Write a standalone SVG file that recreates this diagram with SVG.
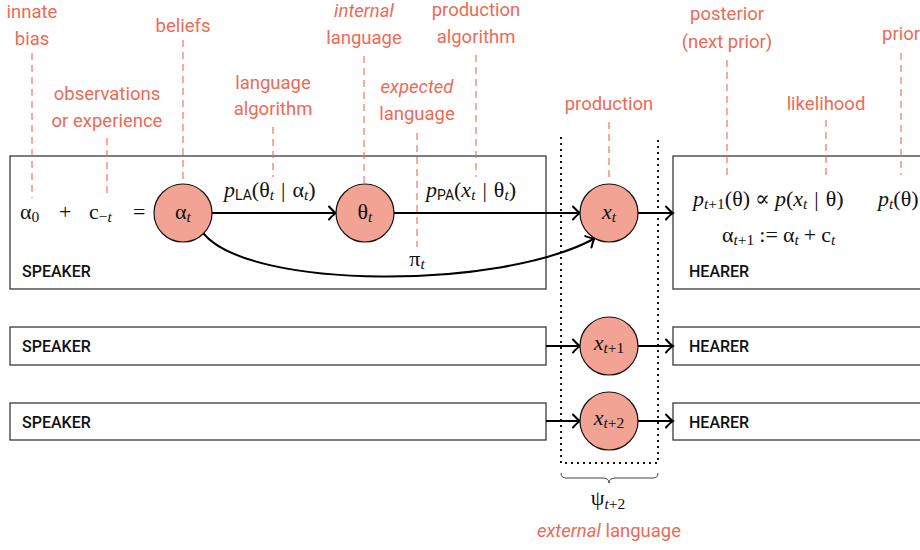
<svg xmlns="http://www.w3.org/2000/svg" width="920" height="550" viewBox="0 0 920 550">
<defs>
<marker id="arr" markerUnits="userSpaceOnUse" markerWidth="20" markerHeight="20" viewBox="-10 -10 20 20" refX="0" refY="0" orient="auto" overflow="visible">
<path d="M -7 -6.5 Q -2.5 -1.5 0 0 Q -2.5 1.5 -7 6.5" fill="none" stroke="#000" stroke-width="2" stroke-linecap="round"/>
</marker>
<style>
.box{fill:#fff;stroke:#3a3a3a;stroke-width:1.3}
.node{fill:#F2A393;stroke:#111;stroke-width:1.2}
.lbl{font-family:Roboto,"Liberation Sans",sans-serif;font-size:18.5px;fill:#EE6A55;text-anchor:middle}
.it{font-style:italic}
.dash{stroke:#EE6A55;stroke-width:1.1;stroke-dasharray:7 5;fill:none}
.role{font-family:Roboto,"Liberation Sans",sans-serif;font-size:16px;fill:#111;font-weight:500}
.m{font-family:"Liberation Serif","DejaVu Serif",serif;font-size:22px;fill:#111}
.mi{font-style:italic}
.sub{font-size:15.5px}
.ss{font-family:Roboto,"Liberation Sans",sans-serif;font-size:14px}
.conn{stroke:#000;stroke-width:2;fill:none}
.dot{stroke:#111;stroke-width:2;stroke-dasharray:2 4;fill:none}
</style>
</defs>

<!-- boxes -->
<g id="speaker1"><rect class="box" x="10" y="156" width="536" height="133"/><text class="role" x="22" y="277">SPEAKER</text>
<text class="m" x="20" y="219">α<tspan class="sub" dy="3">0</tspan></text>
<text class="m" x="59" y="219">+</text>
<text class="m" x="89" y="219">c<tspan class="sub" dy="3">−<tspan class="mi">t</tspan></tspan></text>
<text class="m" x="133" y="219">=</text>
</g>
<g id="hearer1"><rect class="box" x="673" y="156" width="300" height="133"/><text class="role" x="689" y="277">HEARER</text>
<text class="m" x="693" y="206"><tspan class="mi">p</tspan><tspan class="sub mi" dy="3">t</tspan><tspan class="sub">+1</tspan><tspan dy="-3">(θ)</tspan><tspan dx="5">∝</tspan><tspan class="mi" dx="5">p</tspan>(<tspan class="mi">x</tspan><tspan class="sub mi" dy="3">t</tspan><tspan dy="-3" dx="7">|</tspan><tspan dx="7">θ)</tspan></text>
<text class="m" x="878" y="206"><tspan class="mi">p</tspan><tspan class="sub mi" dy="3">t</tspan><tspan dy="-3">(θ)</tspan></text>
<text class="m" x="722" y="242">α<tspan class="sub" dy="3"><tspan class="mi">t</tspan>+1</tspan><tspan dy="-3" dx="5">:=</tspan><tspan dx="5">α</tspan><tspan class="sub mi" dy="3">t</tspan><tspan dy="-3" dx="5">+</tspan><tspan dx="5">c</tspan><tspan class="sub mi" dy="3">t</tspan></text>
</g>
<g id="speaker2"><rect class="box" x="10" y="327" width="536" height="38"/><text class="role" x="22" y="352">SPEAKER</text></g>
<g id="hearer2"><rect class="box" x="673" y="327" width="300" height="38"/><text class="role" x="689" y="352">HEARER</text></g>
<g id="speaker3"><rect class="box" x="10" y="403" width="536" height="37"/><text class="role" x="22" y="428">SPEAKER</text></g>
<g id="hearer3"><rect class="box" x="673" y="403" width="300" height="37"/><text class="role" x="689" y="428">HEARER</text></g>

<!-- external language region -->
<g id="external">
<path class="dot" d="M 561 137 V 463 H 658 V 140"/>
<path d="M 561 473 Q 561 478 566 478 L 602 478 Q 609 478 609 483 Q 609 478 616 478 L 653 478 Q 658 478 658 473" fill="none" stroke="#444" stroke-width="1"/>
<text class="m" x="608" y="505" text-anchor="middle">ψ<tspan class="sub" dy="4"><tspan class="mi">t</tspan>+2</tspan></text>
<text class="lbl" x="609" y="537"><tspan class="it">external</tspan> language</text>
</g>

<!-- annotation labels -->
<g id="annotations">
<text class="lbl" x="32" y="18">innate</text><text class="lbl" x="32" y="45">bias</text>
<line class="dash" x1="32" y1="53" x2="32" y2="198"/>
<text class="lbl" x="107" y="100">observations</text><text class="lbl" x="107" y="127">or experience</text>
<line class="dash" x1="107" y1="138" x2="107" y2="196"/>
<text class="lbl" x="183" y="32">beliefs</text>
<line class="dash" x1="183" y1="40" x2="183" y2="184"/>
<text class="lbl" x="273" y="89">language</text><text class="lbl" x="273" y="115">algorithm</text>
<line class="dash" x1="273" y1="127" x2="273" y2="177"/>
<text class="lbl it" x="364" y="17">internal</text><text class="lbl" x="364" y="44">language</text>
<line class="dash" x1="364" y1="56" x2="364" y2="184"/>
<text class="lbl it" x="417" y="93">expected</text><text class="lbl" x="417" y="120">language</text>
<line class="dash" x1="417" y1="133" x2="417" y2="247"/>
<text class="lbl" x="476" y="16">production</text><text class="lbl" x="476" y="43">algorithm</text>
<line class="dash" x1="476" y1="55" x2="476" y2="177"/>
<text class="lbl" x="609" y="110">production</text>
<line class="dash" x1="609" y1="122" x2="609" y2="180"/>
<text class="lbl" x="727" y="20">posterior</text><text class="lbl" x="727" y="48">(next prior)</text>
<line class="dash" x1="727" y1="60" x2="727" y2="180"/>
<text class="lbl" x="826" y="110">likelihood</text>
<line class="dash" x1="826" y1="120" x2="826" y2="175"/>
<text class="lbl" x="882" y="40" style="text-anchor:start">prior</text>
<line class="dash" x1="901" y1="53" x2="901" y2="175"/>
</g>

<!-- connectors -->
<g id="connectors">
<line class="conn" x1="212" y1="213" x2="336" y2="213" marker-end="url(#arr)"/>
<line class="conn" x1="394" y1="213" x2="580" y2="213" marker-end="url(#arr)"/>
<line class="conn" x1="638" y1="213" x2="673" y2="213" marker-end="url(#arr)"/>
<path class="conn" d="M 203.5 233.5 C 250 290, 500 290, 594.5 238.5" marker-end="url(#arr)"/>
<line class="conn" x1="546" y1="346" x2="580" y2="346" marker-end="url(#arr)"/>
<line class="conn" x1="638" y1="346" x2="673" y2="346" marker-end="url(#arr)"/>
<line class="conn" x1="546" y1="421" x2="580" y2="421" marker-end="url(#arr)"/>
<line class="conn" x1="638" y1="421" x2="673" y2="421" marker-end="url(#arr)"/>
<text class="m" x="224" y="197"><tspan class="mi">p</tspan><tspan class="ss" dy="3">LA</tspan><tspan dy="-3">(θ</tspan><tspan class="sub mi" dy="3">t</tspan><tspan dy="-3" dx="7">|</tspan><tspan dx="7">α</tspan><tspan class="sub mi" dy="3">t</tspan><tspan dy="-3">)</tspan></text>
<text class="m" x="426" y="197"><tspan class="mi">p</tspan><tspan class="ss" dy="3">PA</tspan><tspan dy="-3">(</tspan><tspan class="mi">x</tspan><tspan class="sub mi" dy="3">t</tspan><tspan dy="-3" dx="7">|</tspan><tspan dx="7">θ</tspan><tspan class="sub mi" dy="3">t</tspan><tspan dy="-3">)</tspan></text>
<text class="m" x="417" y="266" text-anchor="middle">π<tspan class="sub mi" dy="3">t</tspan></text>
</g>

<!-- nodes -->
<g id="alpha_t"><circle class="node" cx="183" cy="213" r="29"/><text class="m" x="183" y="219" text-anchor="middle">α<tspan class="sub mi" dy="3">t</tspan></text></g>
<g id="theta_t"><circle class="node" cx="365" cy="213" r="29"/><text class="m" x="365" y="219" text-anchor="middle">θ<tspan class="sub mi" dy="3">t</tspan></text></g>
<g id="x_t"><circle class="node" cx="609" cy="213" r="29"/><text class="m" x="609" y="219" text-anchor="middle"><tspan class="mi">x</tspan><tspan class="sub mi" dy="3">t</tspan></text></g>
<g id="x_t1"><circle class="node" cx="609" cy="346" r="29"/><text class="m" x="609" y="350" text-anchor="middle"><tspan class="mi">x</tspan><tspan class="sub" dy="3"><tspan class="mi">t</tspan>+1</tspan></text></g>
<g id="x_t2"><circle class="node" cx="609" cy="421" r="29"/><text class="m" x="609" y="425" text-anchor="middle"><tspan class="mi">x</tspan><tspan class="sub" dy="3"><tspan class="mi">t</tspan>+2</tspan></text></g>
</svg>
